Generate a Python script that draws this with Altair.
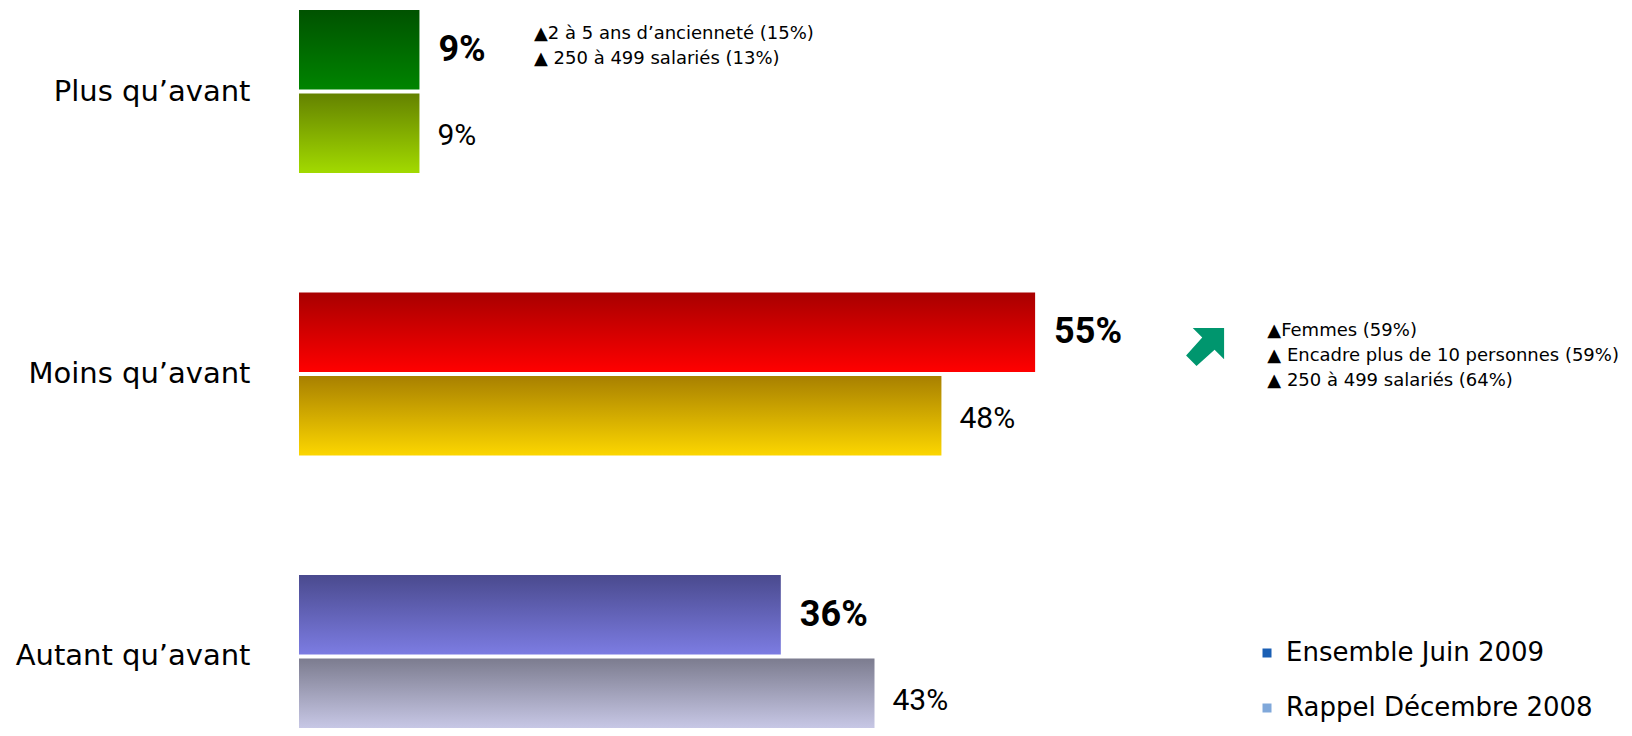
import altair as alt
import pandas as pd

# ---------------- data ----------------
categories = ["Plus qu’avant", "Moins qu’avant", "Autant qu’avant"]
series = ["Ensemble Juin 2009", "Rappel Décembre 2008"]
values_juin_2009 = [9, 55, 36]
values_dec_2008 = [9, 48, 43]
labels_juin_2009 = ["9%", "55%", "36%"]
labels_dec_2008 = ["9%", "48%", "43%"]

annot_plus = ["▲2 à 5 ans d’ancienneté (15%)", "▲ 250 à 499 salariés (13%)"]
annot_moins = ["▲Femmes (59%)", "▲ Encadre plus de 10 personnes (59%)", "▲ 250 à 499 salariés (64%)"]

# ---------------- styles ----------------
grad_top_2009 = ["#005200", "#a80000", "#4a4a8e"]
grad_bot_2009 = ["#008400", "#ff0000", "#7c7ce2"]
grad_top_2008 = ["#648200", "#a88000", "#7c7c8f"]
grad_bot_2008 = ["#a2da00", "#fcd600", "#d2d2f2"]
legend_colors = ["#1a5fb4", "#80a8da"]
arrow_color = "#00966e"

rows = []
for i, c in enumerate(categories):
    rows.append({"cat": c, "serie": series[0], "val": values_juin_2009[i],
                 "lab": labels_juin_2009[i], "key": f"{i}-0"})
    rows.append({"cat": c, "serie": series[1], "val": values_dec_2008[i],
                 "lab": labels_dec_2008[i], "key": f"{i}-1"})
df = pd.DataFrame(rows)

X = alt.X("val:Q", scale=alt.Scale(domain=[0, 99], nice=False, zero=True), axis=None)
Y = alt.Y(
    "cat:N", sort=categories, title=None,
    scale=alt.Scale(range=[0, 728], paddingInner=0.423, paddingOuter=0),
    axis=alt.Axis(labelFont="DejaVu Sans", labelFontSize=29, labelColor="black",
                  labelPadding=49, ticks=False, tickSize=0, domain=False,
                  grid=False, labelLimit=400),
)
YO = alt.YOffset("serie:N", sort=series,
                 scale=alt.Scale(paddingInner=0.05, paddingOuter=0))


def grad(top, bottom):
    return alt.LinearGradient(
        gradient="linear",
        stops=[alt.GradientStop(color=top, offset=0),
               alt.GradientStop(color=bottom, offset=1)],
        x1=0, x2=0, y1=0, y2=1,
    )


base = alt.Chart(df)
layers = []
for i in range(len(categories)):
    for j, (tops, bots) in enumerate([(grad_top_2009, grad_bot_2009),
                                      (grad_top_2008, grad_bot_2008)]):
        layers.append(
            base.transform_filter(alt.FieldEqualPredicate(field="key", equal=f"{i}-{j}"))
            .mark_bar(fill=grad(tops[i], bots[i]))
            .encode(x=X, y=Y, yOffset=YO)
        )

bold_labels = (
    base.transform_filter(alt.FieldEqualPredicate(field="serie", equal=series[0]))
    .mark_text(align="left", baseline="middle", dx=19, font="Roboto",
               fontWeight="bold", fontSize=36, color="black")
    .encode(x=X, y=Y, yOffset=YO, text="lab:N")
)
normal_labels = (
    base.transform_filter(alt.FieldEqualPredicate(field="serie", equal=series[1]))
    .mark_text(align="left", baseline="middle", dx=18, dy=3,
               font="Liberation Sans Narrow, Roboto", fontSize=30, color="black")
    .encode(x=X, y=Y, yOffset=YO, text="lab:N")
)

annot1 = (
    alt.Chart(pd.DataFrame([{"cat": categories[0], "serie": series[0], "val": 17.56,
                             "txt": "\n".join(annot_plus)}]))
    .mark_text(align="left", baseline="middle", dy=-16, lineBreak="\n", lineHeight=25,
               font="DejaVu Sans", fontSize=18, color="black")
    .encode(x=X, y=Y, yOffset=YO, text="txt:N")
)
annot2 = (
    alt.Chart(pd.DataFrame([{"cat": categories[1], "serie": series[0], "val": 72.35,
                             "txt": "\n".join(annot_moins)}]))
    .mark_text(align="left", baseline="middle", dy=-1, lineBreak="\n", lineHeight=25,
               font="DejaVu Sans", fontSize=18, color="black")
    .encode(x=X, y=Y, yOffset=YO, text="txt:N")
)

s = 0.78
pts = [(1, -1), (1, 0.65), (0.5, 0.15), (-0.45, 1), (-1, 0.45), (-0.15, -0.5), (-0.65, -1)]
arrow_path = "M" + " L".join(f"{x} {y + s:.2f}" for x, y in pts) + " Z"
arrow = (
    alt.Chart(pd.DataFrame([{"cat": categories[1], "serie": series[0], "val": 67.7}]))
    .mark_point(shape=arrow_path, filled=True, fill=arrow_color, size=1444,
                opacity=1, strokeWidth=0)
    .encode(x=X, y=Y, yOffset=YO)
)

legend_layer = (
    base.mark_square(opacity=0, size=1)
    .encode(
        x=X, y=Y, yOffset=YO,
        color=alt.Color(
            "serie:N", sort=series,
            scale=alt.Scale(domain=series, range=legend_colors),
            legend=alt.Legend(orient="none", legendX=955, legendY=630, title=None,
                              symbolType="square", symbolSize=81, symbolOpacity=1,
                              symbolStrokeWidth=0, labelFont="DejaVu Sans",
                              labelFontSize=26, labelColor="black", labelOffset=6,
                              rowPadding=29, padding=0, labelLimit=500),
        ),
    )
)

chart = (
    alt.layer(*layers, bold_labels, normal_labels, annot1, annot2, arrow, legend_layer)
    .properties(width=1325, height=718,
                autosize=alt.AutoSizeParams(type="none"),
                padding={"left": 291, "top": 2, "right": 0, "bottom": 0},
                background="white")
    .configure_view(strokeWidth=0)
)

chart.save("out.html", embed_options={"renderer": "svg", "actions": False})
